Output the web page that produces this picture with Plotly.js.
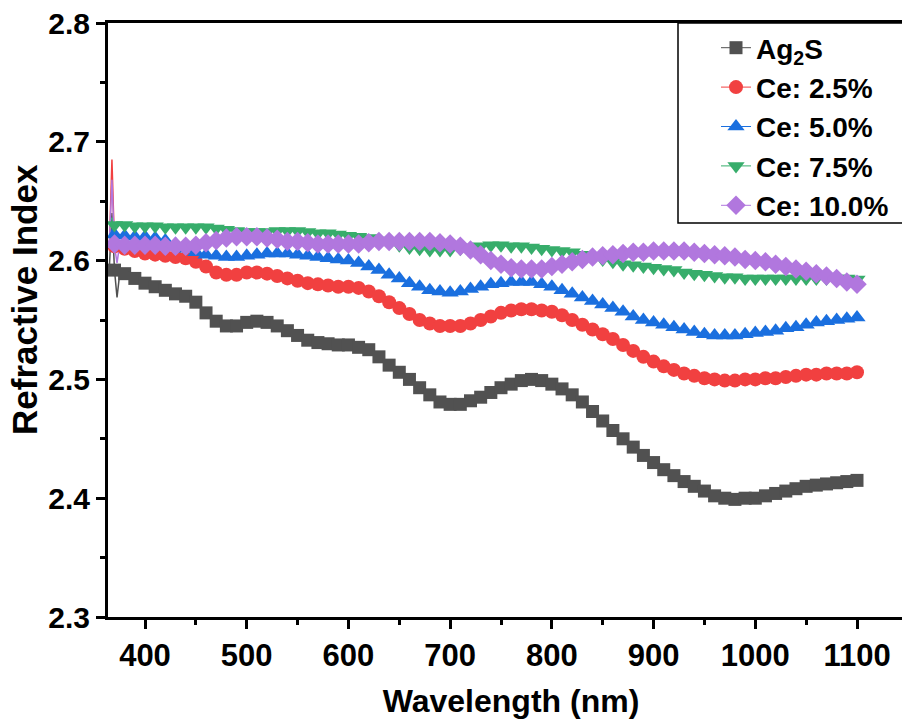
<!DOCTYPE html>
<html>
<head>
<meta charset="utf-8">
<script src="https://cdn.plot.ly/plotly-3.0.1.min.js"></script>
<style>
html,body{margin:0;padding:0;overflow:hidden;background:#fff;}
#chart{width:924px;height:719px;}
</style>
</head>
<body>
<div id="chart"></div>
<script>
// Wavelength (nm)
const wavelength = [
  370,380,390,400,410,420,430,440,450,460,
  470,480,490,500,510,520,530,540,550,560,
  570,580,590,600,610,620,630,640,650,660,
  670,680,690,700,710,720,730,740,750,760,
  770,780,790,800,810,820,830,840,850,860,
  870,880,890,900,910,920,930,940,950,960,
  970,980,990,1000,1010,1020,1030,1040,1050,1060,
  1070,1080,1090,1100
];
const seriesNames = ["Ag<sub>2</sub>S", "Ce: 2.5%", "Ce: 5.0%", "Ce: 7.5%", "Ce: 10.0%"];
const xTitle = "Wavelength (nm)";
const yTitle = "Refractive Index";

const nAg2S = [
  2.592,2.589,2.585,2.581,2.578,2.575,2.572,2.570,2.565,2.556,
  2.549,2.545,2.545,2.548,2.549,2.548,2.545,2.541,2.537,2.533,
  2.531,2.530,2.529,2.529,2.527,2.525,2.519,2.512,2.506,2.500,
  2.493,2.487,2.481,2.479,2.479,2.482,2.485,2.489,2.493,2.496,
  2.499,2.500,2.499,2.496,2.492,2.487,2.481,2.473,2.465,2.457,
  2.450,2.443,2.436,2.430,2.424,2.419,2.414,2.410,2.406,2.402,
  2.400,2.399,2.400,2.400,2.402,2.404,2.406,2.408,2.410,2.411,
  2.412,2.413,2.414,2.415
];
const nCe25 = [
  2.612,2.610,2.608,2.606,2.605,2.604,2.603,2.602,2.599,2.595,
  2.590,2.588,2.588,2.590,2.590,2.589,2.587,2.585,2.583,2.581,
  2.580,2.579,2.578,2.578,2.577,2.574,2.570,2.565,2.560,2.555,
  2.550,2.547,2.545,2.545,2.545,2.547,2.550,2.553,2.556,2.558,
  2.559,2.559,2.558,2.557,2.554,2.550,2.546,2.542,2.538,2.534,
  2.529,2.524,2.519,2.515,2.511,2.508,2.505,2.503,2.501,2.500,
  2.499,2.499,2.500,2.500,2.501,2.501,2.502,2.503,2.504,2.504,
  2.505,2.505,2.505,2.506
];
const nCe50 = [
  2.622,2.621,2.620,2.620,2.619,2.617,2.614,2.610,2.607,2.605,
  2.604,2.603,2.603,2.604,2.605,2.606,2.606,2.606,2.605,2.604,
  2.603,2.602,2.601,2.600,2.598,2.595,2.592,2.588,2.585,2.581,
  2.578,2.575,2.574,2.573,2.574,2.576,2.578,2.580,2.581,2.582,
  2.582,2.582,2.580,2.578,2.575,2.572,2.569,2.566,2.563,2.560,
  2.557,2.553,2.550,2.548,2.546,2.544,2.542,2.540,2.538,2.537,
  2.537,2.537,2.538,2.539,2.540,2.541,2.543,2.544,2.546,2.548,
  2.549,2.550,2.551,2.552
];
const nCe75 = [
  2.630,2.630,2.629,2.629,2.629,2.628,2.628,2.628,2.628,2.628,
  2.627,2.626,2.625,2.624,2.624,2.624,2.625,2.625,2.625,2.624,
  2.623,2.623,2.622,2.621,2.620,2.619,2.617,2.615,2.613,2.611,
  2.610,2.609,2.609,2.609,2.610,2.611,2.612,2.613,2.613,2.612,
  2.612,2.611,2.610,2.609,2.608,2.607,2.605,2.603,2.601,2.599,
  2.597,2.596,2.595,2.594,2.593,2.592,2.590,2.589,2.588,2.587,
  2.586,2.586,2.585,2.585,2.585,2.585,2.585,2.585,2.585,2.585,
  2.585,2.585,2.585,2.584
];
const nCe100 = [
  2.614,2.613,2.613,2.613,2.613,2.612,2.612,2.612,2.613,2.615,
  2.617,2.619,2.620,2.620,2.620,2.619,2.618,2.616,2.616,2.615,
  2.614,2.614,2.614,2.614,2.614,2.615,2.616,2.616,2.616,2.616,
  2.616,2.616,2.615,2.614,2.612,2.609,2.605,2.600,2.597,2.594,
  2.593,2.593,2.593,2.595,2.597,2.599,2.601,2.603,2.604,2.605,
  2.606,2.607,2.607,2.608,2.608,2.608,2.608,2.607,2.606,2.605,
  2.604,2.603,2.601,2.600,2.599,2.597,2.595,2.593,2.591,2.589,
  2.587,2.585,2.582,2.580
];

// Short noisy start of each scan (drawn as thin lines only)
const startWavelength = [365, 367.5, 370, 372.5, 375];
const startAg2S  = [2.595, 2.640, 2.592, 2.569, 2.588];
const startCe25  = [2.612, 2.685, 2.612, 2.608, 2.610];
const startCe50  = [2.622, 2.626, 2.620, 2.615, 2.621];
const startCe75  = [2.630, 2.636, 2.630, 2.628, 2.630];
const startCe100 = [2.614, 2.668, 2.612, 2.598, 2.613];

const yValues = [nAg2S, nCe25, nCe50, nCe75, nCe100];
const startValues = [startAg2S, startCe25, startCe50, startCe75, startCe100];
const colors = ["#515151", "#F14040", "#1A6FDF", "#37AD6B", "#B177DE"];
const symbols = ["square", "circle", "triangle-up", "triangle-down", "diamond"];
const sizes = [13, 14, 15, 15, 15];

const traces = [];
for (let i = 0; i < 5; i++) {
  traces.push({
    x: startWavelength, y: startValues[i], mode: "lines", type: "scatter",
    line: {color: colors[i], width: 1.5}, showlegend: false, hoverinfo: "skip"
  });
}
for (let i = 0; i < 5; i++) {
  traces.push({
    x: wavelength, y: yValues[i], name: seriesNames[i], type: "scatter", mode: "lines+markers",
    line: {color: colors[i], width: 1},
    marker: {color: colors[i], symbol: symbols[i], size: sizes[i], line: {width: 0}}
  });
}

const F = "Liberation Sans, Arial, Helvetica, sans-serif";
const L = 108, R = 10, T = 23, B = 102, W = 924, H = 719;
const PW = W - L - R, PH = H - T - B;
const pxPerNm = (857 - 145) / 700;
const x0 = 400 - (145 - L) / pxPerNm;
const x1 = x0 + PW / pxPerNm;

const layout = {
  width: W, height: H,
  margin: {l: L, r: R, t: T, b: B, pad: 0},
  paper_bgcolor: "#fff", plot_bgcolor: "#fff",
  showlegend: true,
  legend: {
    x: (716 - L) / PW, y: 1, xanchor: "left", yanchor: "top",
    bgcolor: "rgba(0,0,0,0)", borderwidth: 0,
    font: {family: F, size: 28, color: "#000", weight: "bold"},
    tracegroupgap: 0
  },
  shapes: [{
    type: "rect", xref: "paper", yref: "paper",
    x0: (678 - L) / PW, x1: 1, y0: (617 - 223) / PH, y1: 1,
    line: {color: "#000", width: 1.5}, fillcolor: "rgba(0,0,0,0)", layer: "above"
  }],
  annotations: [{
    text: yTitle, xref: "paper", yref: "paper",
    x: (24 - L) / PW, y: (617 - 300) / PH, xanchor: "center", yanchor: "middle",
    textangle: -90, showarrow: false,
    font: {family: F, size: 35, color: "#000", weight: "bold"}
  }],
  xaxis: {
    range: [x0, x1], showgrid: false, zeroline: false,
    showline: true, linecolor: "#000", linewidth: 3, mirror: true,
    ticks: "outside", ticklen: 9, tickwidth: 3, tickcolor: "#000",
    tick0: 400, dtick: 100,
    minor: {ticks: "outside", ticklen: 5, tickwidth: 3, tickcolor: "#000", dtick: 50, tick0: 400},
    tickfont: {family: F, size: 31, color: "#000", weight: "bold"},
    title: {text: xTitle, font: {family: F, size: 32, color: "#000", weight: "bold"}, standoff: 20}
  },
  yaxis: {
    range: [2.3, 2.8], showgrid: false, zeroline: false,
    showline: true, linecolor: "#000", linewidth: 3, mirror: true,
    ticks: "outside", ticklen: 9, tickwidth: 3, tickcolor: "#000",
    tick0: 2.3, dtick: 0.1, tickformat: ".1f",
    minor: {ticks: "outside", ticklen: 5, tickwidth: 3, tickcolor: "#000", dtick: 0.05},
    tickfont: {family: F, size: 30, color: "#000", weight: "bold"}
  }
};

Plotly.newPlot("chart", traces, layout, {staticPlot: true, displayModeBar: false});
</script>
</body>
</html>
